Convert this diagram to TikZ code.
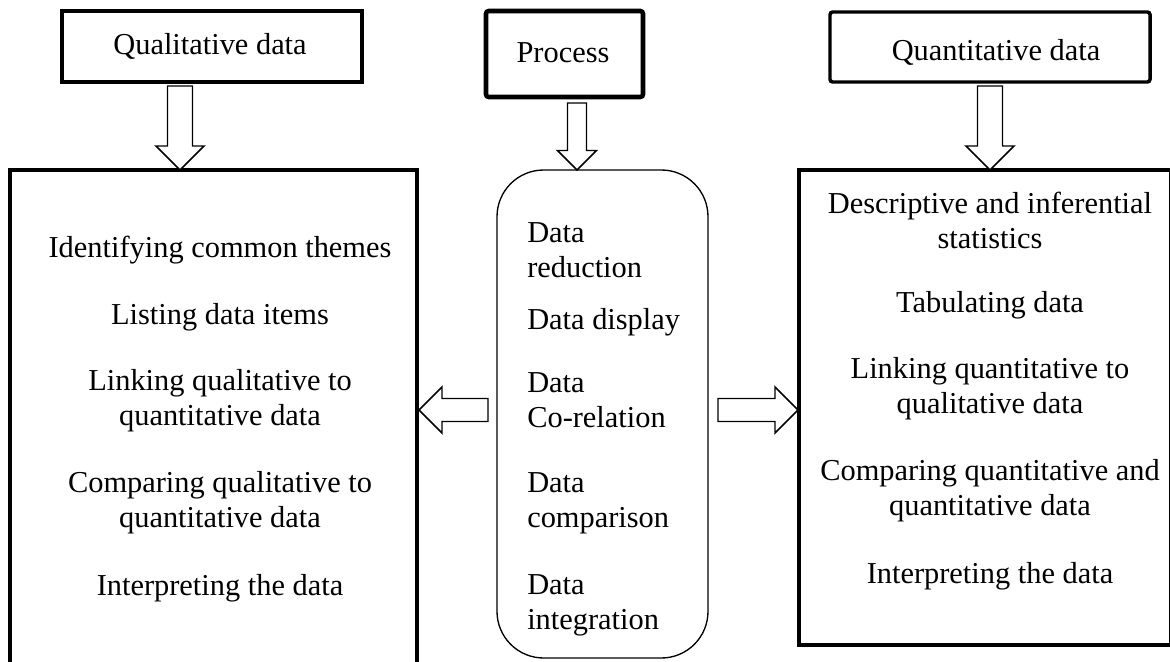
\documentclass[tikz,border=0pt]{standalone}
\usepackage{fontspec}
\setmainfont{Liberation Serif}
\usetikzlibrary{calc}

\tikzset{
  headbox/.style={draw,line width=2.6pt,rounded corners=2pt,inner sep=0pt},
  bigbox/.style={draw,line width=3.4pt},
  blockline/.style={line width=1.1pt,fill=white,line join=miter},
  item/.style={align=center,inner sep=0pt},
  midtext/.style={align=left,anchor=west,inner sep=0pt},
}
% hollow block arrow: tail, direction, length, shaft half width, head half width
\newcommand{\blockarr}[5]{%
  \draw[blockline,shift={(#1)},rotate=#2]
    (0,-#4)--(#3-#5,-#4)--(#3-#5,-#5)--(#3,0)--(#3-#5,#5)--(#3-#5,#4)--(0,#4)--cycle;}

\begin{document}
\begin{tikzpicture}[x=0.75pt,y=-0.75pt,font=\fontsize{22.8}{26.3}\selectfont]
\clip (0,0) rectangle (1170,661);
\useasboundingbox (0,0) rectangle (1170,661);

% top boxes
\draw[headbox,rounded corners=0pt] (62,11) rectangle (362,82);
\draw[headbox,line width=3.4pt] (486,11) rectangle (643,97);
\draw[headbox] (830,12) rectangle (1150,82);
\node[item] (qualtop) at (210,46) {Qualitative data};
\node[item] (proctop) at (563,53) {Process};
\node[item] (quanttop) at (996,52) {Quantitative data};

% main boxes
\draw[bigbox] (10,170) rectangle (417,700);
\draw[line width=1pt,rounded corners=35] (497,170) rectangle (708,658);
\draw[bigbox] (799,170) rectangle (1171,645);

% arrows
\coordinate (qualarr) at (180,86);
\coordinate (procarr) at (577,103);
\coordinate (quantarr) at (990,86);
\coordinate (leftarr) at (488,410);
\coordinate (rightarr) at (718,410);
\blockarr{qualarr}{-90}{84}{12.5}{24}
\blockarr{procarr}{-90}{67}{9.5}{19.5}
\blockarr{quantarr}{-90}{84}{12.5}{24}
\blockarr{leftarr}{180}{69}{11.5}{23}
\blockarr{rightarr}{0}{80}{11.5}{23}

% qualitative items
\node[item] (l1) at (220,250) {Identifying common themes};
\node[item] (l2) at (220,317) {Listing data items};
\node[item] (l3) at (220,401) {Linking qualitative to\\quantitative data};
\node[item] (l4) at (220,503) {Comparing qualitative to\\quantitative data};
\node[item] (l5) at (220,588) {Interpreting the data};

% process items
\node[midtext] (m1) at (527,250) {Data\\reduction};
\node[midtext] (m2) at (527,322) {Data display};
\node[midtext] (m3) at (527,400) {Data\\Co-relation};
\node[midtext] (m4) at (527,503) {Data\\comparison};
\node[midtext] (m5) at (527,605) {Data\\integration};

% quantitative items
\node[item] (r1) at (990,220) {Descriptive and inferential\\statistics};
\node[item] (r2) at (990,305) {Tabulating data};
\node[item] (r3) at (990,389) {Linking quantitative to\\qualitative data};
\node[item] (r4) at (990,491) {Comparing quantitative and\\quantitative data};
\node[item] (r5) at (990,576) {Interpreting the data};
\end{tikzpicture}
\end{document}
